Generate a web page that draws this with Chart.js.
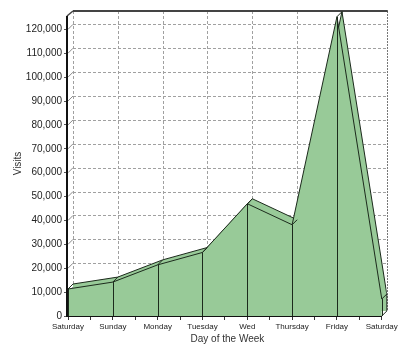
<!DOCTYPE html>
<html><head><meta charset="utf-8">
<script src="https://cdn.jsdelivr.net/npm/chart.js@4/dist/chart.umd.min.js"></script>
<style>html,body{margin:0;padding:0;background:#fff}canvas{display:block}</style>
</head><body>
<canvas id="c" width="400" height="356"></canvas>
<script>
// ---- data ----
const categories = ['Saturday','Sunday','Monday','Tuesday','Wed','Thursday','Friday','Saturday'];
const visits = [11300, 14200, 21400, 26600, 47000, 38200, 125300, 7100];
const yTickValues = [0,10000,20000,30000,40000,50000,60000,70000,80000,90000,100000,110000,120000];
const xAxisTitle = 'Day of the Week';
const yAxisTitle = 'Visits';

// ---- geometry (px) ----
const DEPTH = 5;          // 3D offset
const FRONT_H = 300;      // front plot height
const FRONT_W = 314;      // front plot width
const FRONT_TOP = 125600; // value at top of front plot
const NCAT = categories.length - 1;
const Y_MAX = FRONT_TOP * (FRONT_H + DEPTH) / FRONT_H;
const Y_SHIFT = FRONT_TOP * DEPTH / FRONT_H;
const X_MAX = NCAT * (FRONT_W + DEPTH) / FRONT_W;
const X_SHIFT = NCAT * DEPTH / FRONT_W;

const FILL = '#98ca98';
const EDGE = '#1c2a1c';
const GRID = '#a0a0a0';
const FONT = 'Liberation Sans, Arial, sans-serif';

const frontPts = visits.map((v, i) => ({x: i, y: v}));
const backPts = visits.map((v, i) => ({x: i, y: v}));
const xTickValues = [];
for (let i = 0; i <= NCAT * 2; i++) xTickValues.push(i / 2);

function line(ctx, x1, y1, x2, y2) { ctx.beginPath(); ctx.moveTo(x1, y1); ctx.lineTo(x2, y2); ctx.stroke(); }

const depthPlugin = {
  id: 'depth',
  beforeDatasetsDraw(chart) {
    const {ctx} = chart; const x = chart.scales.x, y = chart.scales.y, xb = chart.scales.xb, yb = chart.scales.yb;
    ctx.save();
    ctx.lineWidth = 1; ctx.strokeStyle = GRID; ctx.setLineDash([3, 2]);
    const bx0 = xb.getPixelForValue(0), bx1 = xb.getPixelForValue(NCAT);
    const byTop = yb.getPixelForValue(FRONT_TOP), byBot = yb.getPixelForValue(0);
    yTickValues.forEach(v => {
      if (v === 0) return;
      const py = Math.round(yb.getPixelForValue(v)) + 0.5;
      line(ctx, bx0, py, bx1, py);
    });
    for (let i = 0; i <= NCAT; i++) {
      const px = Math.round(xb.getPixelForValue(i)) + 0.5;
      if (i === NCAT) { ctx.strokeStyle = '#777'; ctx.setLineDash([2, 1]); }
      line(ctx, px, byTop, px, byBot);
    }
    ctx.setLineDash([]);
    ctx.strokeStyle = '#8a8a8a';
    yTickValues.forEach(v => {
      if (v === 0) return;
      line(ctx, x.getPixelForValue(0), y.getPixelForValue(v), bx0, yb.getPixelForValue(v));
    });
    ctx.strokeStyle = '#444'; ctx.lineWidth = 2;
    line(ctx, bx0, byTop, bx1 + 1, byTop);
    ctx.lineWidth = 1.5;
    line(ctx, x.getPixelForValue(0) - 1, y.getPixelForValue(FRONT_TOP), bx0, byTop);
    ctx.restore();
  },
  afterDatasetsDraw(chart) {
    const {ctx} = chart; const x = chart.scales.x, y = chart.scales.y, xb = chart.scales.xb, yb = chart.scales.yb;
    ctx.save();
    ctx.strokeStyle = EDGE; ctx.lineWidth = 1;
    visits.forEach((v, i) => {
      const px = Math.round(x.getPixelForValue(i)) + 0.5;
      line(ctx, px, y.getPixelForValue(v), px, y.getPixelForValue(0));
      line(ctx, x.getPixelForValue(i), y.getPixelForValue(v), xb.getPixelForValue(i), yb.getPixelForValue(v));
    });
    const last = visits[NCAT];
    line(ctx, xb.getPixelForValue(NCAT), yb.getPixelForValue(last), xb.getPixelForValue(NCAT), yb.getPixelForValue(0));
    line(ctx, x.getPixelForValue(NCAT), y.getPixelForValue(0), xb.getPixelForValue(NCAT), yb.getPixelForValue(0));
    // axes
    ctx.strokeStyle = '#111'; ctx.lineWidth = 1;
    const by = Math.round(y.getPixelForValue(0)) + 0.5;
    line(ctx, x.getPixelForValue(0), by, x.getPixelForValue(NCAT), by);
    ctx.lineWidth = 2;
    const ax = x.getPixelForValue(0) - 1;
    line(ctx, ax, y.getPixelForValue(0) + 1, ax, y.getPixelForValue(FRONT_TOP));
    ctx.restore();
  }
};

new Chart(document.getElementById('c'), {
  type: 'line',
  data: {
    datasets: [
      {label: 'front', data: frontPts, xAxisID: 'x', yAxisID: 'y', fill: 'origin',
       backgroundColor: FILL, borderColor: EDGE, borderWidth: 1, pointRadius: 0, tension: 0},
      {label: 'back', data: backPts, xAxisID: 'xb', yAxisID: 'yb', fill: 'origin',
       backgroundColor: FILL, borderColor: EDGE, borderWidth: 1, pointRadius: 0, tension: 0}
    ]
  },
  options: {
    responsive: false, animation: false, devicePixelRatio: 1,
    layout: {padding: {top: 11, right: 13, left: 0, bottom: 0}},
    plugins: {legend: {display: false}, tooltip: {enabled: false}},
    scales: {
      x: {
        type: 'linear', axis: 'x', position: 'bottom', min: 0, max: X_MAX, bounds: 'data',
        afterBuildTicks: s => { s.ticks = xTickValues.map(v => ({value: v})); },
        afterFit: s => { s.height = 40; },
        ticks: {autoSkip: false, maxRotation: 0, minRotation: 0, padding: 2, color: '#222',
                font: {family: FONT, size: 8},
                callback: v => Number.isInteger(v) ? categories[v] : ''},
        grid: {drawOnChartArea: false, drawTicks: true, tickLength: 4, color: '#333'},
        border: {display: false},
        title: {display: true, text: xAxisTitle, color: '#333', font: {family: FONT, size: 10},
                padding: {top: 0, bottom: 11}}
      },
      y: {
        type: 'linear', axis: 'y', position: 'left', min: 0, max: Y_MAX, bounds: 'data',
        afterBuildTicks: s => { s.ticks = yTickValues.map(v => ({value: v})); },
        afterFit: s => { s.width = 68; },
        ticks: {padding: 2, color: '#222', font: {family: FONT, size: 10},
                callback: v => v.toLocaleString('en-US')},
        grid: {drawOnChartArea: false, drawTicks: true, tickLength: 4, color: '#555'},
        border: {display: false},
        title: {display: true, text: yAxisTitle, color: '#333', font: {family: FONT, size: 10},
                padding: {top: 12, bottom: 0}}
      },
      xb: {type: 'linear', axis: 'x', position: 'bottom', display: false, min: -X_SHIFT, max: NCAT, bounds: 'data'},
      yb: {type: 'linear', axis: 'y', position: 'left', display: false, min: -Y_SHIFT, max: FRONT_TOP, bounds: 'data'}
    }
  },
  plugins: [depthPlugin]
});
</script>
</body></html>
